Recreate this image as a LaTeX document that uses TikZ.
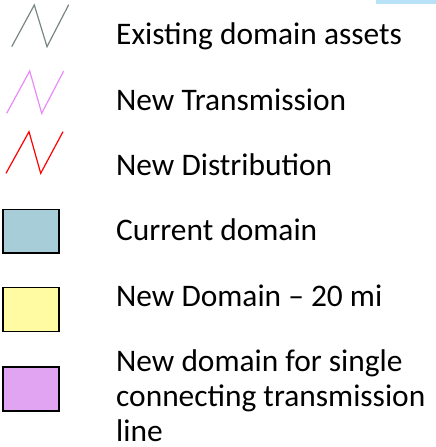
\documentclass[tikz,border=0pt]{standalone}
\usepackage{fontspec}
\setmainfont{Carlito}
\definecolor{existgray}{HTML}{7A8585}
\definecolor{transpink}{HTML}{E88AF8}
\definecolor{distred}{HTML}{FF0000}
\definecolor{curblue}{HTML}{A6CDD8}
\definecolor{newyellow}{HTML}{FFFBA2}
\definecolor{singlepurple}{HTML}{E0A4F2}
\definecolor{topbar}{HTML}{B8E2F8}
\begin{document}
\begin{tikzpicture}[x=1pt,y=-1pt,
  zig/.style={line width=1.2pt},
  swatch/.style={draw=black,line width=1.7pt},
  label/.style={anchor=base west,inner sep=0pt,font=\fontsize{31.4}{35}\selectfont}]
\useasboundingbox (0,0) rectangle (436,447);
% thin bar at the top edge
\fill[topbar] (376,0) rectangle (436,4);
% line symbols
\draw[zig,existgray] (11.7,46.7) -- (34.3,5) -- (47,46.7) -- (68.7,4.7);
\draw[zig,transpink] (6.7,113.3) -- (29.7,71) -- (41.7,113.3) -- (63.7,71);
\draw[zig,distred] (6,173.3) -- (29,131.7) -- (40.7,173.3) -- (63,131.7);
% area swatches
\filldraw[swatch,fill=curblue] (3,209.5) rectangle (59,253);
\filldraw[swatch,fill=newyellow] (3,287.5) rectangle (59,331.5);
\filldraw[swatch,fill=singlepurple] (3,367) rectangle (59,411);
% legend texts
\node[label] (t1) at (116,44.3) {Existing domain assets};
\node[label] (t2) at (116,110) {New Transmission};
\node[label] (t3) at (116,175) {New Distribution};
\node[label] (t4) at (116,240) {Current domain};
\node[label] (t5) at (116,306.7) {New Domain – 20 mi};
% the base anchor of a multi-line node sits on its last line
\node[label,align=left] (t6) at (116,441.7) {New domain for single\\connecting transmission\\line};
\end{tikzpicture}
\end{document}
